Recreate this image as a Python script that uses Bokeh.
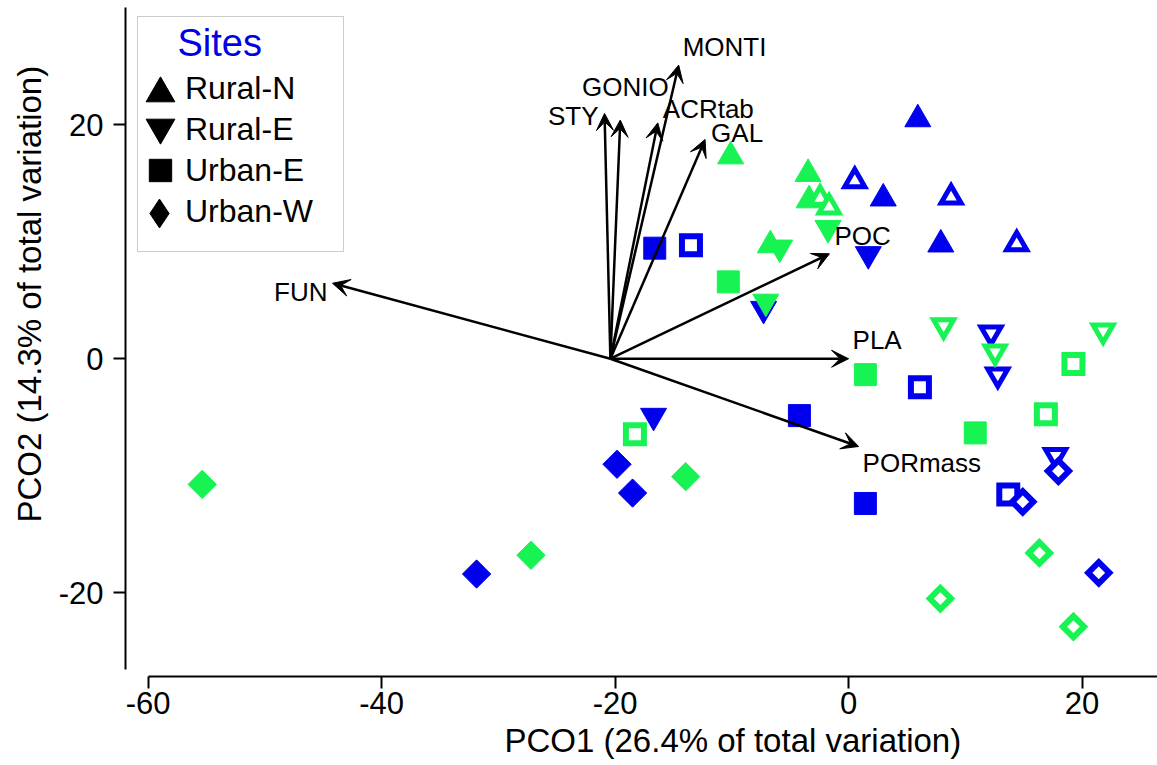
import numpy as np
from bokeh.plotting import figure
from bokeh.models import (Range1d, Arrow, VeeHead, Legend, LegendItem,
                          ColumnDataSource, Label, FixedTicker, Title)
from bokeh.embed import file_html
from bokeh.resources import INLINE

# ---------------- data ----------------
sites = ["Rural-N", "Rural-E", "Urban-E", "Urban-W"]
legend_title = "Sites"
x_ticks = [-60, -40, -20, 0, 20]
y_ticks = [-20, 0, 20]
x_title = "PCO1 (26.4% of total variation)"
y_title = "PCO2 (14.3% of total variation)"

rural_n_blue_filled_x = [5.93, 2.97, 7.90]
rural_n_blue_filled_y = [20.47, 13.70, 9.77]
rural_n_blue_open_x = [0.53, 8.78, 14.40]
rural_n_blue_open_y = [15.20, 13.80, 9.80]
rural_n_green_filled_x = [-10.10, -3.47, -3.38, -6.70]
rural_n_green_filled_y = [17.30, 15.80, 13.54, 9.70]
rural_n_green_open_x = [-2.44, -1.67]
rural_n_green_open_y = [13.70, 12.96]

rural_e_blue_filled_x = [1.69, -7.28, -16.70]
rural_e_blue_filled_y = [8.94, 4.26, -4.88]
rural_e_blue_open_x = [12.20, 12.78, 17.73]
rural_e_blue_open_y = [2.23, -1.37, -8.25]
rural_e_green_filled_x = [-1.76, -5.90, -7.09]
rural_e_green_filled_y = [11.17, 9.50, 4.88]
rural_e_green_open_x = [8.14, 12.55, 21.80]
rural_e_green_open_y = [2.83, 0.60, 2.40]

urban_e_blue_filled_x = [-16.60, -4.21, 1.44]
urban_e_blue_filled_y = [9.45, -4.86, -12.37]
urban_e_blue_open_x = [-13.50, 6.11, 13.68]
urban_e_blue_open_y = [9.70, -2.43, -11.60]
urban_e_green_filled_x = [-10.30, 1.44, 10.85]
urban_e_green_filled_y = [6.57, -1.36, -6.34]
urban_e_green_open_x = [-18.30, 19.26, 16.90]
urban_e_green_open_y = [-6.45, -0.46, -4.74]

urban_w_blue_filled_x = [-19.83, -18.50, -31.86]
urban_w_blue_filled_y = [-9.02, -11.48, -18.40]
urban_w_blue_open_x = [17.97, 14.92, 21.43]
urban_w_blue_open_y = [-9.60, -12.23, -18.30]
urban_w_green_filled_x = [-13.95, -55.36, -27.20]
urban_w_green_filled_y = [-10.08, -10.74, -16.80]
urban_w_green_open_x = [16.34, 7.86, 19.26]
urban_w_green_open_y = [-16.60, -20.50, -22.90]

vector_names = ["FUN", "STY", "GONIO", "ACRtab", "MONTI", "GAL", "POC", "PLA", "PORmass"]
vector_x = [-44.20, -20.90, -19.55, -16.34, -14.55, -12.29, -1.64, 0.00, 0.86]
vector_y = [6.45, 20.97, 20.40, 20.16, 25.10, 18.74, 8.97, 0.00, -7.50]
vector_origin_x = -20.40
vector_origin_y = 0.0

# ---------------- styles ----------------
BLUE = "#0000EE"
GREEN = "#17F352"
FONT = "Liberation Sans"

series = [
    ("Rural-N", BLUE, "filled", rural_n_blue_filled_x, rural_n_blue_filled_y),
    ("Rural-N", BLUE, "open", rural_n_blue_open_x, rural_n_blue_open_y),
    ("Rural-N", GREEN, "filled", rural_n_green_filled_x, rural_n_green_filled_y),
    ("Rural-N", GREEN, "open", rural_n_green_open_x, rural_n_green_open_y),
    ("Rural-E", BLUE, "filled", rural_e_blue_filled_x, rural_e_blue_filled_y),
    ("Rural-E", BLUE, "open", rural_e_blue_open_x, rural_e_blue_open_y),
    ("Rural-E", GREEN, "filled", rural_e_green_filled_x, rural_e_green_filled_y),
    ("Rural-E", GREEN, "open", rural_e_green_open_x, rural_e_green_open_y),
    ("Urban-E", BLUE, "filled", urban_e_blue_filled_x, urban_e_blue_filled_y),
    ("Urban-E", BLUE, "open", urban_e_blue_open_x, urban_e_blue_open_y),
    ("Urban-E", GREEN, "filled", urban_e_green_filled_x, urban_e_green_filled_y),
    ("Urban-E", GREEN, "open", urban_e_green_open_x, urban_e_green_open_y),
    ("Urban-W", BLUE, "filled", urban_w_blue_filled_x, urban_w_blue_filled_y),
    ("Urban-W", BLUE, "open", urban_w_blue_open_x, urban_w_blue_open_y),
    ("Urban-W", GREEN, "filled", urban_w_green_filled_x, urban_w_green_filled_y),
    ("Urban-W", GREEN, "open", urban_w_green_open_x, urban_w_green_open_y),
]

marker_of = {"Rural-N": "triangle", "Rural-E": "inverted_triangle",
             "Urban-E": "square", "Urban-W": "square"}
angle_of = {"Rural-N": 0.0, "Rural-E": 0.0, "Urban-E": 0.0, "Urban-W": np.pi / 4}
filled_size = {"Rural-N": 26, "Rural-E": 26, "Urban-E": 22, "Urban-W": 20}
open_size = {"Rural-N": 20, "Rural-E": 20, "Urban-E": 18, "Urban-W": 15}
open_width = {"Rural-N": 5, "Rural-E": 5, "Urban-E": 6, "Urban-W": 6}
legend_marker = {"Rural-N": "triangle", "Rural-E": "inverted_triangle",
                 "Urban-E": "square", "Urban-W": "diamond"}
# legend key symbols: (glyph box px, location relative to frame bottom-left)
legend_key = {"Rural-N": (72, (-1, 547)), "Rural-E": (72, (-1, 513)),
              "Urban-E": (56, (7, 478)), "Urban-W": (72, (-2, 427))}

# label placement (screen px offsets, align)
label_style = {
    "FUN": (-5, -9, "right"),
    "STY": (-6, -3, "right"),
    "GONIO": (5, 33, "center"),
    "ACRtab": (5, 14, "left"),
    "MONTI": (4, 18, "left"),
    "GAL": (6, 6, "left"),
    "POC": (5, 18, "left"),
    "PLA": (4, 19, "left"),
    "PORmass": (4, -17, "left"),
}

p = figure(width=1157, height=765,
           x_range=Range1d(-61.93, 26.46), y_range=Range1d(-27.16, 30.62),
           output_backend="svg", toolbar_location=None,
           min_border_left=125, min_border_right=0,
           min_border_top=0, min_border_bottom=89)
p.grid.visible = False
p.outline_line_color = None
p.background_fill_color = "white"
p.border_fill_color = "white"

p.xaxis.ticker = FixedTicker(ticks=x_ticks)
p.yaxis.ticker = FixedTicker(ticks=y_ticks)
p.xaxis.major_label_overrides = {t: str(t) for t in x_ticks}
p.yaxis.major_label_overrides = {t: str(t) for t in y_ticks}
p.xaxis.bounds = (-60, 26.46)
p.yaxis.bounds = (-26.6, 30.0)
for ax in (p.xaxis[0], p.yaxis[0]):
    ax.axis_line_width = 2
    ax.axis_line_color = "black"
    ax.major_tick_line_width = 2
    ax.major_tick_line_color = "black"
    ax.major_tick_in = 0
    ax.major_tick_out = 12
    ax.minor_tick_in = 0
    ax.minor_tick_out = 0
    ax.major_label_text_font = FONT
    ax.major_label_text_font_size = "31px"
    ax.major_label_text_color = "black"
p.xaxis.major_label_standoff = 3
p.yaxis.major_label_standoff = 10

# axis titles (placed off-centre as in the original)
p.add_layout(Title(text=x_title, align="left", offset=379, standoff=6,
                   text_font=FONT, text_font_size="33px", text_font_style="normal",
                   text_color="black"), "below")
p.add_layout(Title(text=y_title, align="left", offset=154, standoff=16,
                   text_font=FONT, text_font_size="33px", text_font_style="normal",
                   text_color="black"), "left")

# arrows (vectors)
vsrc = ColumnDataSource(dict(x0=[vector_origin_x] * len(vector_names),
                             y0=[vector_origin_y] * len(vector_names),
                             x1=vector_x, y1=vector_y))
p.add_layout(Arrow(end=VeeHead(size=17, fill_color="black", line_color="black", line_width=1),
                   x_start="x0", y_start="y0", x_end="x1", y_end="y1",
                   source=vsrc, line_width=2.5, line_color="black"))
for name, vx, vy in zip(vector_names, vector_x, vector_y):
    dx, dy, al = label_style[name]
    p.add_layout(Label(x=vx, y=vy, text=name, x_offset=dx, y_offset=dy,
                       text_align=al, text_baseline="middle",
                       text_font=FONT, text_font_size="26px", text_color="black"))

# points
for site, col, fill, xs, ys in series:
    if fill == "filled":
        p.scatter(xs, ys, marker=marker_of[site], angle=angle_of[site],
                  size=filled_size[site], fill_color=col, line_color=col, line_width=1)
    else:
        p.scatter(xs, ys, marker=marker_of[site], angle=angle_of[site],
                  size=open_size[site], fill_color="white", line_color=col,
                  line_width=open_width[site], line_join="miter")

# legend: box + labels (invisible keys)
items = []
for site in sites:
    r = p.scatter([np.nan], [np.nan], marker=legend_marker[site],
                  fill_alpha=0, line_alpha=0)
    items.append(LegendItem(label=site, renderers=[r]))
legend = Legend(items=items, location=(12, 424), padding=19,
                glyph_width=20, glyph_height=41, spacing=0, label_standoff=8,
                label_width=139, label_text_font=FONT, label_text_font_size="32px",
                label_text_color="black", title=" ", title_text_font_size="28px",
                title_standoff=0, border_line_color="#999999", border_line_width=1,
                background_fill_alpha=0)
p.add_layout(legend)

# legend key symbols (larger than the legend row height allows)
for site in sites:
    g, loc = legend_key[site]
    r = p.scatter([np.nan], [np.nan], marker=legend_marker[site],
                  fill_color="black", line_color="black")
    p.add_layout(Legend(items=[LegendItem(label="", renderers=[r])], location=loc,
                        padding=0, margin=0, glyph_width=g, glyph_height=g,
                        label_standoff=0, label_width=0, label_height=0,
                        label_text_font_size="1px", border_line_color=None,
                        background_fill_alpha=0))

p.add_layout(Label(x=52, y=634, x_units="screen", y_units="screen", text=legend_title,
                   text_font=FONT, text_font_size="38px", text_color="#0000E6",
                   text_baseline="alphabetic", text_align="left"))

open("out.html", "w").write(file_html(p, INLINE))
